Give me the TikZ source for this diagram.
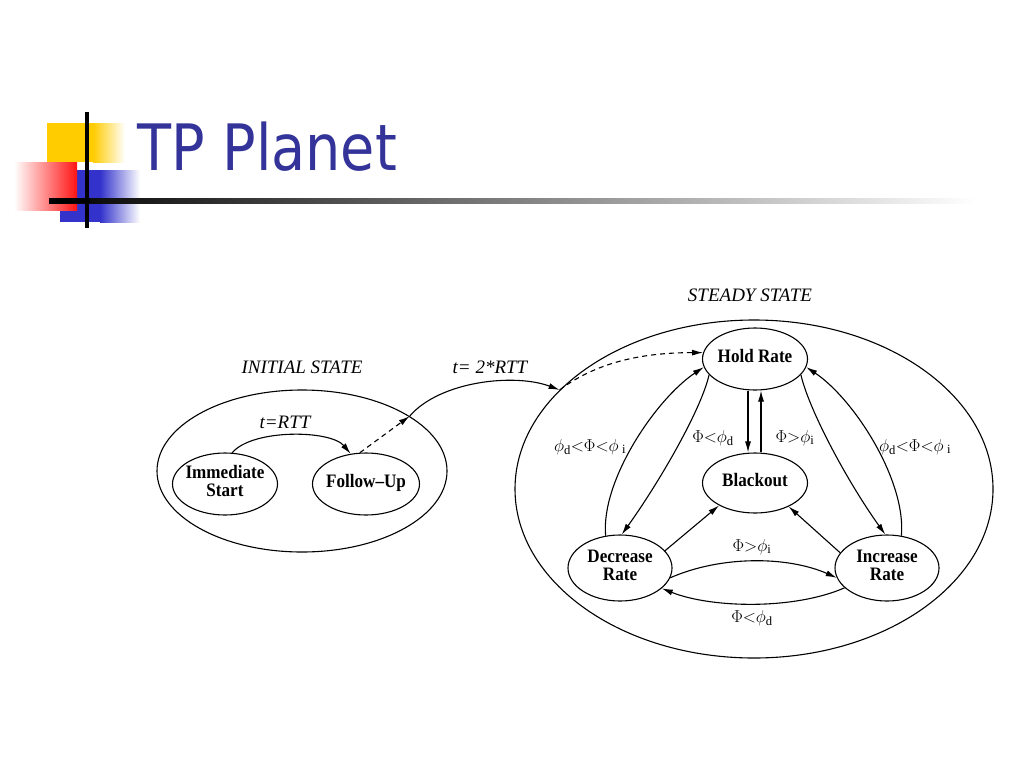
\documentclass[tikz,border=0pt]{standalone}
\usepackage{fontspec}
\setmainfont{Liberation Serif}
\newfontfamily\titlefont[FakeStretch=0.87]{DejaVu Sans}
\newfontfamily\statefont[FakeStretch=0.9,Ligatures=TeX]{Liberation Serif}
\usetikzlibrary{arrows.meta,shapes.geometric}
\definecolor{titleblue}{RGB}{51,51,153}
\definecolor{decoyellow}{RGB}{255,204,0}
\definecolor{decored}{RGB}{255,20,20}
\definecolor{decoblue}{RGB}{51,51,204}
\newcommand\stxt[1]{\makebox[0pt]{\begin{tabular}{@{}c@{}}#1\end{tabular}}}
\begin{document}
\begin{tikzpicture}[x=1pt,y=-1pt,
  state/.style={draw, ellipse, line width=1.1pt, minimum width=105pt, minimum height=62pt, inner sep=0pt,
    font=\statefont\bfseries\fontsize{19}{18}\selectfont},
  region/.style={draw, ellipse, line width=1.1pt, inner sep=0pt},
  tr/.style={line width=1.1pt, -{Latex[length=11pt,width=6pt]}},
  dsh/.style={tr, dash pattern=on 5pt off 4pt},
  lbl/.style={font=\itshape\fontsize{19}{20}\selectfont, inner sep=0pt},
  cond/.style={font=\fontsize{18}{20}\selectfont, inner sep=0pt}]
\useasboundingbox (0,0) rectangle (1024,768);
\fill[white] (0,0) rectangle (1024,768);

% title decoration
\fill[decoyellow] (47,123) rectangle (93,162);
\shade[left color=decoyellow, right color=white] (93,123) rectangle (125,162);
\fill[decoblue] (60,170) rectangle (100,222);
\shade[left color=decoblue, right color=white] (100,170) rectangle (140,222);
\shade[left color=white, right color=decored] (14,162) rectangle (77,210);
\shade[left color=black, right color=white] (49,198) rectangle (975,203);
\fill[black] (49,198) rectangle (90,203);
\fill[black] (85,112) rectangle (89,228);
\node[anchor=base west, inner sep=0pt, text=titleblue, font=\titlefont\fontsize{64}{70}\selectfont] (title) at (137,170) {TP Planet};

% regions
\node[region, minimum width=290pt, minimum height=162pt] (init) at (302,471) {};
\node[region, minimum width=478pt, minimum height=338pt] (steady) at (754,489) {};

% states
\node[state] (imm) at (225,484) {\stxt{Immediate\\Start}};
\node[state, minimum width=107pt] (fol) at (366,484) {\stxt{Follow–Up}};
\node[state] (hold) at (755,359) {\stxt{Hold Rate}};
\node[state, minimum height=60pt] (black) at (755,483) {\stxt{Blackout}};
\node[state, minimum width=104pt, minimum height=66pt] (dec) at (620,568) {\stxt{Decrease\\Rate}};
\node[state, minimum width=104pt, minimum height=66pt] (inc) at (887,568) {\stxt{Increase\\Rate}};

% labels
\node[lbl] (linit) at (302,367) {INITIAL STATE};
\node[lbl] (lsteady) at (750,295) {STEADY STATE};
\node[lbl] (lrtt) at (285,422) {t=RTT};
\node[lbl] (l2rtt) at (490,367) {t= 2*RTT};
\node[cond] (cl) at (590,447) {$\phi_{\mathrm{d}}{<}\Phi{<}\phi_{\;\mathrm{i}}$};
\node[cond] (cr) at (915,447) {$\phi_{\mathrm{d}}{<}\Phi{<}\phi_{\;\mathrm{i}}$};
\node[cond] (chb) at (713,438) {$\Phi{<}\phi_{\mathrm{d}}$};
\node[cond] (cbh) at (795,438) {$\Phi{>}\phi_{\mathrm{i}}$};
\node[cond] (cdi) at (752,547) {$\Phi{>}\phi_{\mathrm{i}}$};
\node[cond] (cid) at (752,618) {$\Phi{<}\phi_{\mathrm{d}}$};

% initial state transitions
\draw[tr] (imm.77) .. controls +(20,-24) and +(-20,-24) .. (fol.117);
\draw[dsh] (fol.101) -- (init.27);
\draw[tr] (init.27) .. controls +(30,-35) and +(-45,-17) .. (steady.153);
\draw[dsh] (steady.153) .. controls +(40,-30) and +(-55,0) .. (hold.173);

% steady state transitions
\draw[tr] ([xshift=-7pt]hold.south) -- ([xshift=-7pt]black.north);
\draw[tr] ([xshift=6pt]black.north) -- ([xshift=6pt]hold.south);
\draw[tr] (dec.114) .. controls +(-5,-55) and +(-48,32) .. (hold.189);
\draw[tr] (hold.199) .. controls +(-8,35) and +(38,-53) .. (dec.87);
\draw[tr] (hold.341) .. controls +(8,35) and +(-38,-53) .. (inc.93);
\draw[tr] (inc.66) .. controls +(5,-55) and +(48,32) .. (hold.351);
\draw[tr] (dec.21) -- (black.212);
\draw[tr] (inc.162) -- (black.325);
\draw[tr] (dec.349) .. controls +(50,-22) and +(-50,-22) .. (inc.191);
\draw[tr] (inc.205) .. controls +(-50,22) and +(50,20) .. (dec.334);
\end{tikzpicture}
\end{document}
